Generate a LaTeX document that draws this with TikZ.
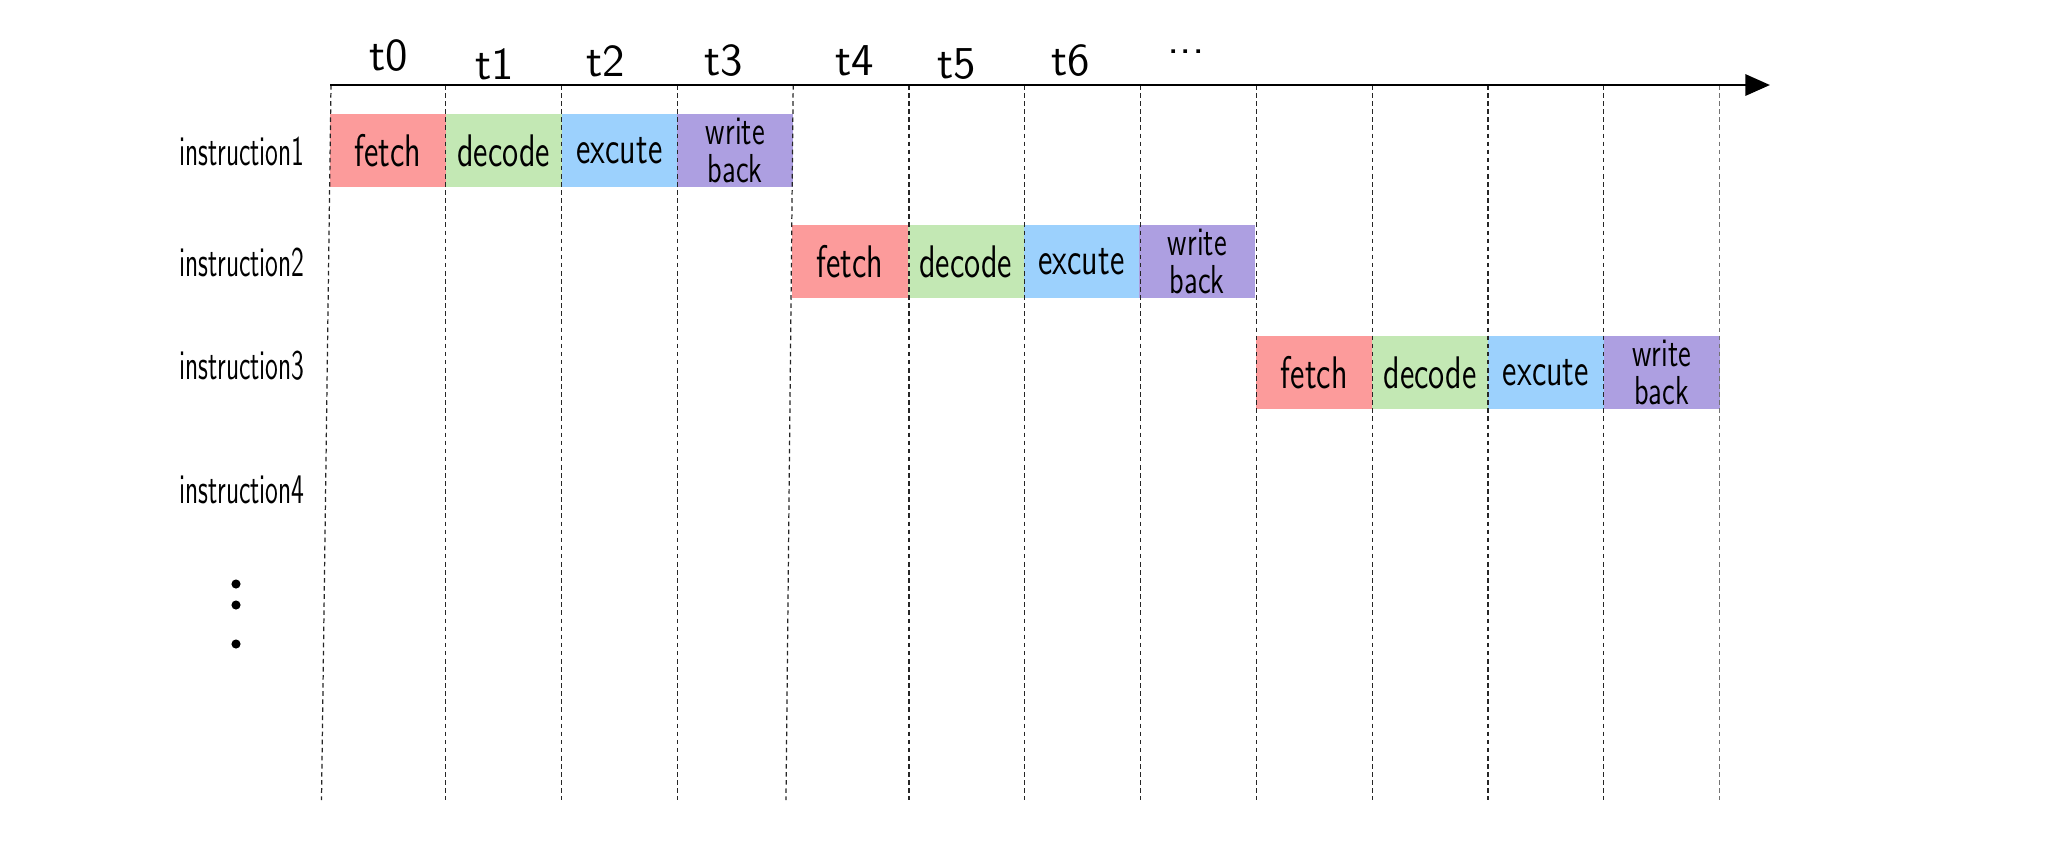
\documentclass[tikz,border=0pt]{standalone}
\usepackage{graphicx}
\usepackage{xcolor}
\usepackage{tikz}
\usetikzlibrary{arrows.meta,positioning}
\definecolor{fetchred}{HTML}{FC9B9B}
\definecolor{decodegreen}{HTML}{C3E8B4}
\definecolor{excuteblue}{HTML}{9CD1FD}
\definecolor{wbpurple}{HTML}{AD9FE1}
\newcommand{\hand}[2][0.72]{\scalebox{#1}[1]{#2}}

\begin{document}
\begin{tikzpicture}[
  font=\sffamily\fontsize{13}{13}\selectfont,
  stage/.style={minimum width=1.158cm,minimum height=0.73cm,
               inner sep=0pt,outer sep=0pt,align=center,anchor=north west},
  fetchbox/.style={stage,fill=fetchred},
  decodebox/.style={stage,fill=decodegreen},
  excutebox/.style={stage,fill=excuteblue},
  wbbox/.style={stage,fill=wbpurple,font=\sffamily\fontsize{11.5}{11}\selectfont},
  rowlabel/.style={font=\sffamily\fontsize{12}{12}\selectfont},
  tick/.style={font=\sffamily\fontsize{13}{13}\selectfont},
  dotmark/.style={circle,fill=black,inner sep=0pt,minimum size=2.6pt},
  gridline/.style={line width=0.35pt,draw=black!85,dash pattern=on 1.3pt off 1pt},
  axis/.style={-{Triangle[length=7pt,width=6pt]},line width=0.8pt}
]
\useasboundingbox (0,0) rectangle (20.48,-8.53);

\node[fetchbox] (fetch1) at (3.30,-1.14) {\hand{fetch}};
\node[decodebox,right=0pt of fetch1] (decode1) {\hand{decode}};
\node[excutebox,right=0pt of decode1] (excute1) {\hand{excute}};
\node[wbbox,right=0pt of excute1] (wb1) {\hand{write}\\\hand{back}};

\node[fetchbox] (fetch2) at (7.92,-2.25) {\hand{fetch}};
\node[decodebox,right=0pt of fetch2] (decode2) {\hand{decode}};
\node[excutebox,right=0pt of decode2] (excute2) {\hand{excute}};
\node[wbbox,right=0pt of excute2] (wb2) {\hand{write}\\\hand{back}};

\node[fetchbox] (fetch3) at (12.564,-3.36) {\hand{fetch}};
\node[decodebox,right=0pt of fetch3] (decode3) {\hand{decode}};
\node[excutebox,right=0pt of decode3] (excute3) {\hand{excute}};
\node[wbbox,right=0pt of excute3] (wb3) {\hand{write}\\\hand{back}};

\draw[gridline] (3.31,-0.85) -- (3.215,-8.00);
\draw[gridline] (4.458,-0.85) -- (4.458,-8.00);
\draw[gridline] (5.616,-0.85) -- (5.616,-8.00);
\draw[gridline] (6.774,-0.85) -- (6.774,-8.00);
\draw[gridline] (7.932,-0.85) -- (7.86,-8.00);
\draw[gridline] (9.09,-0.85) -- (9.09,-8.00);
\draw[gridline] (10.248,-0.85) -- (10.248,-8.00);
\draw[gridline] (11.406,-0.85) -- (11.406,-8.00);
\draw[gridline] (12.564,-0.85) -- (12.564,-8.00);
\draw[gridline] (13.722,-0.85) -- (13.722,-8.00);
\draw[gridline] (14.88,-0.85) -- (14.88,-8.00);
\draw[gridline] (16.038,-0.85) -- (16.038,-8.00);
\draw[gridline,draw=black!55] (17.196,-0.85) -- (17.196,-8.00);

\coordinate (origin) at (3.30,-0.85);
\coordinate (tend) at (17.70,-0.85);
\draw[axis] (origin) -- (tend);

\node[tick] (t0) at (3.89,-0.56) {t0};
\node[tick] (t1) at (4.95,-0.64) {t1};
\node[tick] (t2) at (6.06,-0.61) {t2};
\node[tick] (t3) at (7.24,-0.61) {t3};
\node[tick] (t4) at (8.55,-0.61) {t4};
\node[tick] (t5) at (9.57,-0.64) {t5};
\node[tick] (t6) at (10.71,-0.61) {t6};
\node[tick] (tdots) at (11.86,-0.52) {...};

\node[rowlabel] (instr1) at (2.42,-1.51) {\hand[0.62]{instruction1}};
\node[rowlabel] (instr2) at (2.42,-2.62) {\hand[0.62]{instruction2}};
\node[rowlabel] (instr3) at (2.42,-3.66) {\hand[0.62]{instruction3}};
\node[rowlabel] (instr4) at (2.42,-4.90) {\hand[0.62]{instruction4}};
\node[dotmark] (dot1) at (2.36,-5.84) {};
\node[dotmark] (dot2) at (2.36,-6.05) {};
\node[dotmark] (dot3) at (2.36,-6.44) {};
\end{tikzpicture}
\end{document}
